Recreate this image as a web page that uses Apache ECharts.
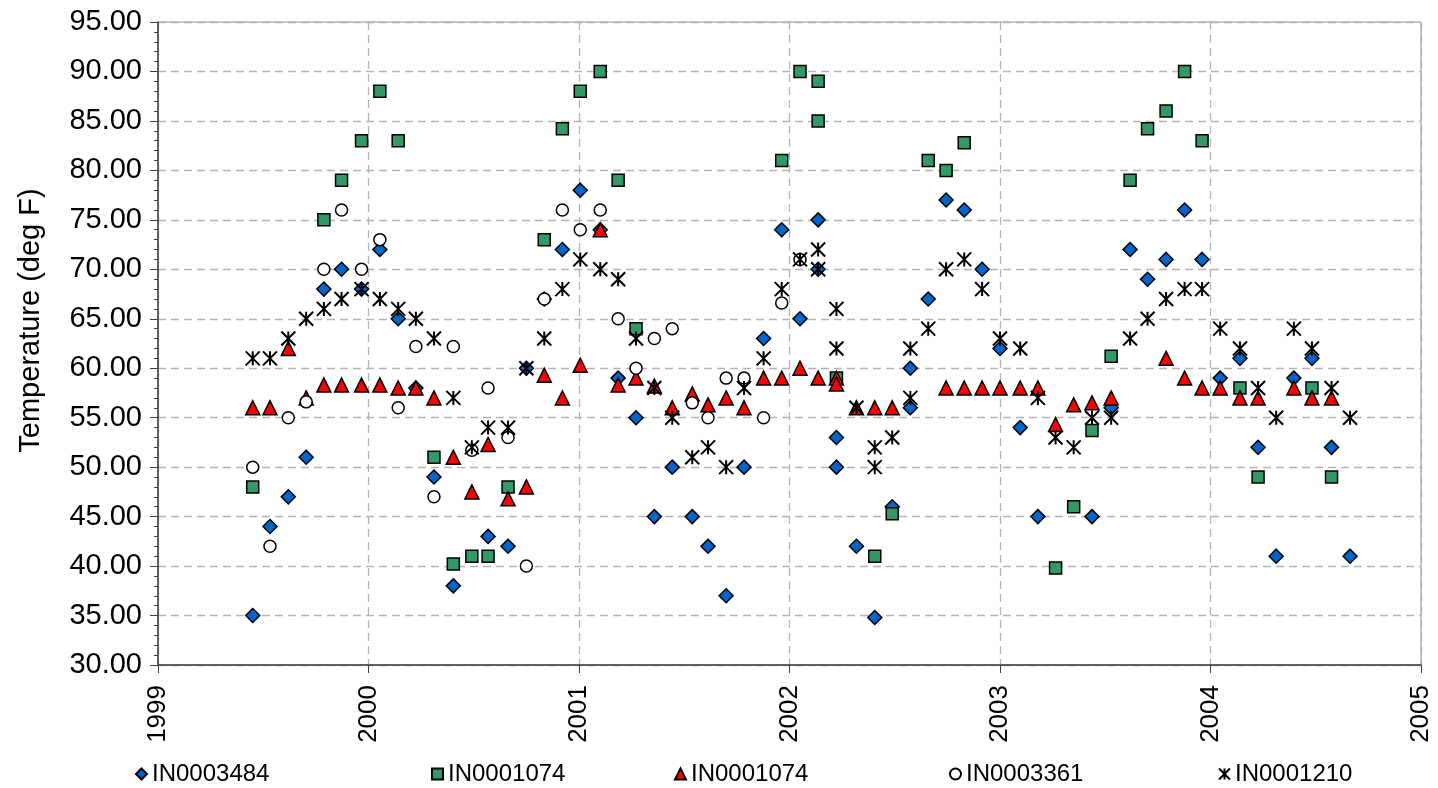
<!DOCTYPE html>
<html>
<head>
<meta charset="utf-8">
<script src="https://cdn.jsdelivr.net/npm/echarts/dist/echarts.min.js"></script>
<style>
html,body{margin:0;padding:0;background:#fff;}
#chart{width:1438px;height:788px;}
</style>
</head>
<body>
<div id="chart"></div>
<script>
// ---- data (x = decimal year of sample, y = temperature deg F) ----
const yearTicks = [1999, 2000, 2001, 2002, 2003, 2004, 2005];
const tempRange = [30, 95];

const IN0003484 = [
  [1999.450,35],[1999.532,44],[1999.619,47],[1999.704,51],[1999.788,68],[1999.872,70],[1999.967,68],
  [2000.054,72],[2000.141,65],[2000.225,58],[2000.311,49],[2000.403,38],[2000.568,43],[2000.663,42],
  [2000.750,60],[2000.835,67],[2000.921,72],[2001.006,78],[2001.101,74],[2001.186,59],[2001.271,55],
  [2001.358,45],[2001.443,50],[2001.538,45],[2001.613,42],[2001.699,37],[2001.784,50],[2001.877,63],
  [2001.963,74],[2002.050,65],[2002.136,75],[2002.136,70],[2002.223,53],[2002.223,50],[2002.318,42],
  [2002.405,34.8],[2002.488,46],[2002.574,60],[2002.574,56],[2002.659,67],[2002.744,77],[2002.830,76],
  [2002.915,70],[2003.000,62],[2003.096,54],[2003.180,45],[2003.437,45],[2003.528,56],[2003.618,72],
  [2003.701,69],[2003.789,71],[2003.877,76],[2003.960,71],[2004.046,59],[2004.140,61],[2004.226,52],
  [2004.312,41],[2004.396,59],[2004.482,61],[2004.575,52],[2004.663,41]
];

const IN0001074_A = [
  [1999.450,48],[1999.788,75],[1999.872,79],[1999.967,83],[2000.054,88],[2000.141,83],[2000.311,51],
  [2000.403,40.2],[2000.491,41],[2000.568,41],[2000.663,48],[2000.835,73],[2000.921,84.2],[2001.006,88],
  [2001.101,90],[2001.186,79],[2001.271,64],[2001.963,81],[2002.050,90],[2002.136,89],[2002.136,85],
  [2002.223,59],[2002.405,41],[2002.488,45.3],[2002.659,81],[2002.744,80],[2002.830,82.8],[2003.264,39.8],
  [2003.350,46],[2003.437,53.7],[2003.528,61.2],[2003.618,79],[2003.701,84.2],[2003.789,86],[2003.877,90],
  [2003.960,83],[2004.140,58],[2004.226,49],[2004.482,58],[2004.575,49]
];

const IN0001074_B = [
  [1999.450,56],[1999.532,56],[1999.619,62],[1999.704,57],[1999.788,58.3],[1999.872,58.3],[1999.967,58.3],
  [2000.054,58.3],[2000.141,58],[2000.225,58],[2000.311,57],[2000.403,51],[2000.491,47.5],[2000.568,52.3],
  [2000.663,46.8],[2000.750,48],[2000.835,59.3],[2000.921,57],[2001.006,60.3],[2001.101,74],[2001.186,58.3],
  [2001.271,59],[2001.358,58.2],[2001.443,56],[2001.538,57.4],[2001.613,56.3],[2001.699,57],[2001.784,56],
  [2001.877,59],[2001.963,59],[2002.050,60],[2002.136,59],[2002.223,59],[2002.223,58.4],[2002.318,56],
  [2002.405,56],[2002.488,56],[2002.744,58],[2002.830,58],[2002.915,58],[2003.000,58],[2003.096,58],
  [2003.180,58],[2003.264,54.3],[2003.350,56.3],[2003.437,56.5],[2003.528,57],[2003.789,61],[2003.877,59],
  [2003.960,58],[2004.046,58],[2004.140,57],[2004.226,57],[2004.396,58],[2004.482,57],[2004.575,57]
];

const IN0003361 = [
  [1999.450,50],[1999.532,42],[1999.619,55],[1999.704,56.6],[1999.788,70],[1999.872,76],[1999.967,70],
  [2000.054,73],[2000.141,56],[2000.225,62.2],[2000.311,47],[2000.403,62.2],[2000.491,51.7],[2000.568,58],
  [2000.663,53],[2000.750,40],[2000.835,67],[2000.921,76],[2001.006,74],[2001.101,76],[2001.186,65],
  [2001.271,60],[2001.358,63],[2001.443,64],[2001.538,56.5],[2001.613,55],[2001.699,59],[2001.784,59],
  [2001.877,55],[2001.963,66.6],[2002.050,71]
];

const IN0001210 = [
  [1999.450,61],[1999.532,61],[1999.619,63],[1999.704,65],[1999.788,66],[1999.872,67],[1999.967,68],
  [2000.054,67],[2000.141,66],[2000.225,65],[2000.311,63],[2000.403,57],[2000.491,52],[2000.568,54],
  [2000.663,54],[2000.750,60],[2000.835,63],[2000.921,68],[2001.006,71],[2001.101,70],[2001.186,69],
  [2001.271,63],[2001.358,58],[2001.443,55],[2001.538,51],[2001.613,52],[2001.699,50],[2001.784,58],
  [2001.877,61],[2001.963,68],[2002.050,71],[2002.136,72],[2002.136,70],[2002.223,66],[2002.223,62],
  [2002.318,56],[2002.405,52],[2002.405,50],[2002.488,53],[2002.574,62],[2002.574,57],[2002.659,64],
  [2002.744,70],[2002.830,71],[2002.915,68],[2003.000,63],[2003.096,62],[2003.180,57],[2003.264,53],
  [2003.350,52],[2003.437,55],[2003.528,55],[2003.618,63],[2003.701,65],[2003.789,67],[2003.877,68],
  [2003.960,68],[2004.046,64],[2004.140,62],[2004.226,58],[2004.312,55],[2004.396,64],[2004.482,62],
  [2004.575,58],[2004.663,55]
];

// ---- chart ----
const FONT = '"Liberation Sans", Arial, sans-serif';
const ASTERISK = 'path://M0,0L10,10M10,0L0,10M5,0L5,10';

const seriesDefs = [
  {id:'s1', label:'IN0003484', data:IN0003484, symbol:'diamond', size:14, color:'#0066CC', bw:1.5, legendLeft:130},
  {id:'s2', label:'IN0001074', data:IN0001074_A, symbol:'rect', size:12, color:'#339966', bw:1.5, legendLeft:426},
  {id:'s3', label:'IN0001074', data:IN0001074_B, symbol:'triangle', size:14, color:'#FF0000', bw:1.5, legendLeft:669},
  {id:'s4', label:'IN0003361', data:IN0003361, symbol:'circle', size:12, color:'#FFFFFF', bw:1.5, legendLeft:944},
  {id:'s5', label:'IN0001210', data:IN0001210, symbol:ASTERISK, size:14, color:'rgba(0,0,0,0)', bw:2, legendLeft:1213}
];

const chart = echarts.init(document.getElementById('chart'), null, {renderer:'canvas'});

const option = {
  animation: false,
  backgroundColor: '#ffffff',
  textStyle: {fontFamily: FONT},
  grid: {left:158, right:17, top:22, bottom:123, show:true, borderColor:'#8c8c8c', borderWidth:1, backgroundColor:'#ffffff'},
  xAxis: {
    type:'value', min:yearTicks[0], max:yearTicks[yearTicks.length-1], interval:1,
    axisLine:{show:true, onZero:false, lineStyle:{color:'#404040', width:1.5}},
    axisTick:{show:true, length:8, inside:false, lineStyle:{color:'#404040'}},
    axisLabel:{rotate:90, fontSize:26, color:'#000', margin:20, fontFamily:FONT, formatter:v=>String(v)},
    splitLine:{show:true, lineStyle:{color:'#b4b4b4', type:[8,5], width:1.3}}
  },
  yAxis: {
    type:'value', min:tempRange[0], max:tempRange[1], interval:5,
    name:'Temperature (deg F)', nameLocation:'middle', nameGap:113, nameRotate:90,
    nameTextStyle:{fontSize:29, color:'#000', fontFamily:FONT, padding:[0,0,0,46]},
    axisLine:{show:true, lineStyle:{color:'#404040', width:1.5}},
    axisTick:{show:true, length:8, lineStyle:{color:'#404040'}},
    minorTick:{show:true, splitNumber:5, length:4, lineStyle:{color:'#404040'}},
    axisLabel:{fontSize:29, color:'#000', margin:16, fontFamily:FONT, formatter:v=>v.toFixed(2)},
    splitLine:{show:true, lineStyle:{color:'#b4b4b4', type:[8,5], width:1.3}}
  },
  legend: seriesDefs.map(s => ({
    data:[s.id], left:s.legendLeft, top:757, orient:'horizontal',
    itemWidth:11, itemHeight:11, itemGap:4,
    formatter: () => s.label,
    textStyle:{fontSize:24, color:'#000', fontFamily:FONT},
    selectedMode:false
  })),
  series: seriesDefs.map(s => ({
    id:s.id, name:s.id, type:'scatter', data:s.data,
    symbol:s.symbol, symbolSize:s.size,
    itemStyle:{color:s.color, borderColor:'#000', borderWidth:s.bw, opacity:1},
    emphasis:{disabled:true}
  }))
};
chart.setOption(option);
</script>
</body>
</html>
